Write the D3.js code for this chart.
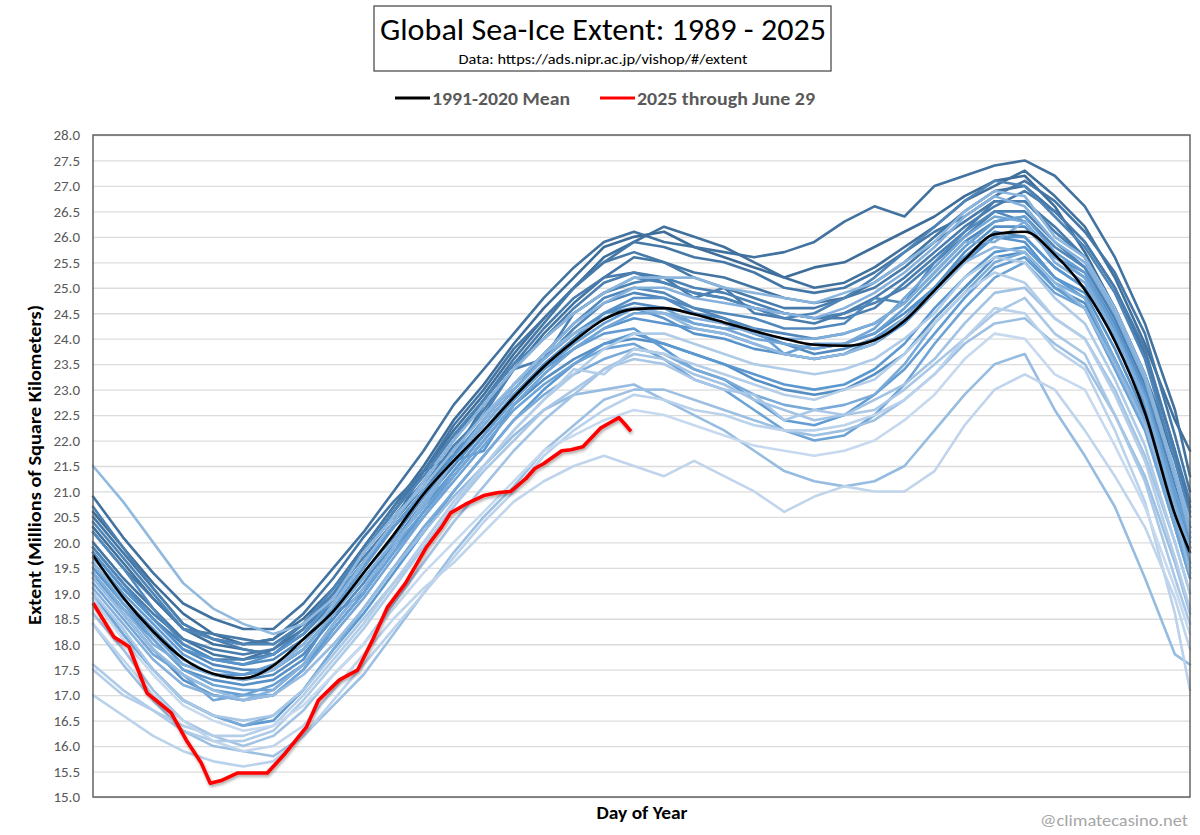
<!DOCTYPE html>
<html>
<head>
<meta charset="utf-8">
<style>
    body {
        margin: 0;
        background: #fff;
        font-family: Carlito, Lato, "Open Sans", sans-serif;
    }
    .grid line { stroke: #dcdcdc; stroke-width: 1.3px; }
    .grid path { display: none; }
    .ylab path, .ylab line { display: none; }
    .ylab text { fill: #595959; font-size: 15px; font-family: Carlito, Lato, sans-serif; }
    .year { fill: none; stroke-width: 2.6px; stroke-linejoin: round; stroke-linecap: round; }
</style>
</head>
<body>
<svg id="chart" width="1200" height="835"></svg>
<script src="https://d3js.org/d3.v7.min.js"></script>
<script>
// day of year of each reading (every 10 days, plus Dec 31)
var days = [1, 11, 21, 31, 41, 51, 61, 71, 81, 91, 101, 111, 121, 131, 141, 151, 161, 171, 181, 191,
            201, 211, 221, 231, 241, 251, 261, 271, 281, 291, 301, 311, 321, 331, 341, 351, 361, 366];

var yTicks = [15.0, 15.5, 16.0, 16.5, 17.0, 17.5, 18.0, 18.5, 19.0, 19.5, 20.0, 20.5, 21.0, 21.5, 22.0, 22.5, 23.0, 23.5, 24.0, 24.5, 25.0, 25.5, 26.0, 26.5, 27.0, 27.5, 28.0];

var years = [1989, 1990, 1991, 1992, 1993, 1994, 1995, 1996, 1997, 1998, 1999, 2000, 2001, 2002, 2003, 2004, 2005, 2006,
             2007, 2008, 2009, 2010, 2011, 2012, 2013, 2014, 2015, 2016, 2017, 2018, 2019, 2020, 2021, 2022, 2023, 2024];

var ext1989 = [20.6,19.9,19.2,18.6,18.2,18.0,18.1,18.5,19.1,19.9,20.7,21.5,22.4,23.1,23.9,24.6,25.2,25.8,26.0,26.1,25.8,25.6,25.4,25.2,25.4,25.5,25.8,26.1,26.4,26.8,27.1,27.2,26.6,25.7,24.6,23.2,21.6,20.7];
var ext1990 = [20.3,19.6,18.9,18.3,18.0,17.9,17.8,18.2,18.9,19.8,20.6,21.4,22.2,22.9,23.7,24.4,25.0,25.6,25.9,26.2,26.0,25.8,25.5,25.2,25.0,25.1,25.4,25.8,26.2,26.7,27.0,27.3,26.8,26.2,25.2,23.9,22.4,21.8];
var ext1991 = [20.9,20.1,19.4,18.8,18.5,18.3,18.3,18.8,19.5,20.2,21.0,21.8,22.7,23.4,24.1,24.8,25.4,25.9,26.1,25.9,25.8,25.7,25.6,25.7,25.9,26.3,26.6,26.4,27.0,27.2,27.4,27.5,27.2,26.6,25.6,24.3,22.6,21.3];
var ext1992 = [20.0,19.3,18.7,18.1,17.8,17.7,17.9,18.3,18.9,19.6,20.4,21.4,21.7,22.7,23.4,24.1,24.7,25.2,25.6,25.5,25.3,25.2,25.0,24.8,24.7,24.8,25.1,25.5,26.0,26.5,26.9,27.0,26.5,25.9,25.0,23.7,21.8,20.6];
var ext1993 = [20.5,19.8,19.1,18.4,18.1,18.0,18.1,18.6,19.3,20.1,20.8,21.4,22.3,23.0,23.8,24.4,25.0,25.5,25.9,25.8,25.6,25.5,25.3,25.0,24.9,25.0,25.3,25.7,26.1,26.4,26.8,27.1,26.7,26.1,25.3,24.1,22.1,21.0];
var ext1994 = [20.2,19.5,18.9,18.3,18.2,18.1,18.0,18.4,19.1,19.9,20.7,21.4,22.1,22.8,23.6,24.3,25.0,25.5,25.7,25.5,25.2,25.0,24.8,24.6,24.6,24.8,25.0,25.4,25.9,26.3,26.7,26.7,26.2,25.6,24.6,23.3,21.7,20.5];
var ext1995 = [19.9,19.2,18.6,18.1,17.9,17.8,17.9,18.4,19.0,19.8,20.5,21.2,22.0,22.8,23.5,24.2,24.8,25.2,25.3,25.2,24.8,25.0,24.5,24.4,24.3,24.5,24.8,25.2,25.7,26.2,26.6,26.9,26.5,25.9,25.0,23.8,21.8,20.8];
var ext1996 = [20.7,19.9,19.1,18.4,18.1,17.9,17.8,18.2,18.8,19.6,20.3,21.0,21.8,22.6,23.4,24.0,24.6,25.1,25.3,25.1,24.9,24.8,24.6,24.5,24.4,24.4,24.6,25.1,25.6,26.1,26.7,26.7,26.1,25.6,24.6,23.3,21.3,20.3];
var ext1997 = [19.8,19.1,18.5,18.0,17.7,17.7,17.8,18.3,19.0,19.7,20.4,21.1,21.9,22.5,23.4,23.6,24.5,24.9,25.1,25.2,25.0,24.9,24.7,24.5,24.4,24.5,24.7,25.0,25.5,26.0,26.5,26.5,25.9,25.4,24.4,23.1,21.1,20.1];
var ext1998 = [20.4,19.7,19.0,18.3,18.1,18.0,18.0,18.4,19.1,19.8,20.6,21.3,22.1,22.8,23.5,24.0,24.5,24.9,25.2,25.1,24.9,24.8,24.6,24.4,24.5,24.8,25.2,25.7,26.2,26.7,27.1,27.0,26.4,25.8,24.9,23.6,21.6,20.5];
var ext1999 = [19.9,19.2,18.5,17.9,17.6,17.5,17.5,17.9,18.6,19.4,20.1,20.9,21.6,22.3,23.0,23.6,24.2,24.7,24.9,24.8,24.6,24.4,24.2,24.1,24.0,24.1,24.3,24.7,25.3,25.9,26.3,26.4,25.8,25.4,24.5,23.2,21.3,20.3];
var ext2000 = [20.2,19.5,18.7,18.0,17.7,17.6,17.7,18.1,18.7,19.5,20.3,21.0,21.7,22.4,23.1,23.7,24.3,24.8,25.0,24.9,24.6,24.5,24.4,24.2,24.2,24.3,24.8,24.7,25.5,26.1,26.5,26.3,25.6,25.2,24.2,22.9,21.0,20.0];
var ext2001 = [19.6,18.9,18.3,17.7,17.4,17.3,17.4,17.8,18.5,19.2,20.0,20.8,21.5,22.2,22.9,23.5,24.0,24.5,24.7,24.6,24.5,24.4,24.1,23.9,23.7,23.8,24.0,24.4,25.0,25.6,26.1,26.0,25.4,25.0,24.0,22.7,20.8,19.9];
var ext2002 = [19.4,18.6,17.9,17.3,17.0,16.9,17.0,17.5,18.3,19.0,19.8,20.6,21.3,22.0,22.7,23.2,23.6,23.9,24.0,23.9,23.7,23.5,23.2,23.0,22.9,23.0,23.3,23.7,24.4,25.0,25.6,25.7,25.0,24.7,23.5,22.3,20.3,19.3];
var ext2003 = [19.4,18.7,18.1,17.5,17.3,17.2,17.3,17.7,18.6,19.0,20.0,20.7,21.4,22.1,22.8,23.4,24.0,24.5,24.8,24.8,24.5,24.3,24.1,23.9,23.8,23.9,24.1,24.5,25.0,25.7,26.2,26.2,25.6,25.3,24.3,23.0,21.0,20.2];
var ext2004 = [19.8,19.1,18.5,17.9,17.7,17.6,17.8,18.2,18.9,19.6,20.3,20.9,21.7,22.4,23.1,23.6,24.1,24.5,24.6,24.4,24.1,24.0,23.8,23.7,23.6,23.7,23.9,24.3,24.9,25.5,26.0,25.9,25.2,24.9,23.8,22.5,20.7,19.6];
var ext2005 = [19.5,18.8,18.2,17.6,17.4,17.4,17.5,17.9,18.6,19.3,20.0,20.7,21.6,21.8,22.7,23.3,23.8,24.2,24.4,24.3,24.2,24.1,23.9,23.7,23.6,23.7,24.0,24.4,25.0,25.6,26.0,26.0,25.4,25.0,24.0,22.7,20.9,19.8];
var ext2006 = [19.0,18.2,17.5,16.9,16.6,16.4,16.5,17.1,17.9,18.6,19.4,20.2,21.0,21.7,22.4,23.0,23.5,23.9,24.1,23.9,23.7,23.5,23.3,23.1,23.0,23.1,23.4,23.9,24.6,25.2,25.7,25.8,25.2,24.8,23.6,22.4,20.5,19.5];
var ext2007 = [19.7,19.0,18.4,17.8,17.5,17.4,17.6,18.0,18.7,19.5,20.3,21.0,21.6,22.2,22.9,23.4,23.8,24.1,24.2,23.8,23.4,23.2,22.8,22.4,22.3,22.5,22.9,23.4,24.1,24.8,25.4,25.6,25.0,24.6,23.5,22.3,20.4,19.4];
var ext2008 = [19.3,18.6,17.9,17.4,17.1,17.0,17.2,17.6,18.4,19.1,19.9,20.6,21.4,22.1,22.8,23.4,23.9,24.3,24.6,24.6,24.3,24.2,24.2,23.7,23.9,23.9,24.1,24.6,25.2,25.8,26.3,26.4,25.7,25.3,24.2,22.9,21.0,20.1];
var ext2009 = [19.6,18.8,18.1,17.5,17.2,17.1,17.1,17.6,18.3,19.0,19.8,20.5,21.2,21.9,22.6,23.1,23.5,23.8,23.9,23.6,23.2,23.0,22.6,22.2,22.0,22.1,22.5,23.1,23.9,24.6,25.2,25.5,24.9,24.6,23.4,22.2,20.3,19.3];
var ext2010 = [19.2,18.5,17.8,17.4,16.9,17.0,17.0,17.5,18.2,18.9,19.7,20.5,21.3,22.0,22.7,23.3,23.8,24.2,24.5,24.5,24.3,24.2,24.0,23.9,23.8,23.9,24.2,24.8,25.4,26.0,26.4,26.3,25.6,25.2,24.1,22.8,20.8,19.9];
var ext2011 = [18.9,18.2,17.5,16.9,16.6,16.4,16.6,17.1,17.9,18.7,19.5,20.3,21.0,21.7,22.4,22.9,23.3,23.6,23.8,23.7,23.4,23.2,22.9,22.7,22.6,22.7,22.9,23.5,24.3,24.9,25.5,25.7,25.1,24.8,23.6,22.4,20.4,19.5];
var ext2012 = [19.4,18.7,18.0,17.6,17.4,17.3,17.5,17.9,18.6,19.3,20.0,20.7,21.6,22.3,23.0,23.6,24.1,24.4,24.6,24.5,24.4,24.3,24.1,24.0,24.0,24.1,24.3,24.7,25.3,25.9,25.9,26.3,25.5,25.1,24.1,22.8,20.7,19.8];
var ext2013 = [19.1,18.4,17.7,17.2,17.0,16.9,17.1,17.6,18.4,19.1,19.9,20.8,21.6,22.4,23.1,23.7,24.3,24.7,25.0,25.0,24.8,24.7,24.6,24.5,24.4,24.6,24.9,25.3,25.8,26.4,26.8,26.6,25.9,25.5,24.5,23.2,21.3,20.2];
var ext2014 = [19.6,18.9,18.2,17.7,17.4,17.3,17.5,18.0,18.8,19.6,20.4,21.2,22.0,22.7,23.4,24.0,24.5,24.9,25.2,25.2,25.2,25.0,24.9,24.8,24.7,24.9,25.1,25.5,25.9,26.5,26.9,26.8,26.0,25.6,24.6,23.3,21.4,20.4];
var ext2015 = [21.5,20.8,20.0,19.2,18.7,18.4,18.2,18.4,18.9,19.8,20.5,21.1,21.8,22.5,23.1,23.7,24.1,24.4,24.6,24.5,24.2,24.1,23.9,23.7,23.6,23.7,23.9,24.4,24.9,25.5,25.8,25.7,25.1,24.6,23.5,22.3,20.6,19.4];
var ext2016 = [19.3,18.6,17.9,17.4,17.1,16.9,17.0,17.4,18.0,18.7,19.5,20.2,20.9,21.5,22.1,22.6,22.9,23.0,23.1,22.8,22.5,22.2,21.8,21.4,21.2,21.1,21.2,21.5,22.2,22.9,23.5,23.7,22.6,21.7,20.7,19.3,17.8,17.6];
var ext2017 = [18.4,17.6,16.9,16.3,16.0,15.9,15.8,16.2,16.8,17.4,18.2,19.0,19.8,20.5,21.1,21.8,22.3,22.8,23.0,23.0,22.8,22.6,22.4,22.2,22.1,22.2,22.4,22.8,23.3,23.9,24.3,24.4,23.9,23.5,22.5,21.3,19.6,18.6];
var ext2018 = [18.6,17.9,17.1,16.5,16.2,16.0,16.2,16.7,17.4,18.0,18.8,19.6,20.4,21.1,21.8,22.4,22.9,23.4,23.7,23.6,23.3,23.1,22.8,22.6,22.4,22.5,22.8,23.1,23.6,24.3,24.9,25.0,24.4,24.0,23.0,21.7,20.0,19.0];
var ext2019 = [19.0,18.3,17.5,16.9,16.6,16.5,16.6,17.1,17.8,18.5,19.2,19.9,20.7,21.4,22.0,22.6,23.0,23.4,23.6,23.5,23.2,23.0,22.9,22.4,22.6,22.5,22.6,23.0,23.5,24.0,24.5,24.8,24.1,23.7,22.5,21.2,19.3,18.4];
var ext2020 = [17.6,17.1,16.7,16.3,16.1,16.1,16.3,16.9,17.6,18.3,19.1,19.9,20.7,21.5,22.2,22.8,23.3,23.8,24.1,24.1,23.9,23.7,23.5,23.4,23.3,23.4,23.6,24.0,24.5,25.2,25.6,25.5,24.8,24.3,23.2,21.9,20.0,19.0];
var ext2021 = [17.5,17.0,16.7,16.4,16.2,16.2,16.4,17.0,17.7,18.4,19.2,20.0,20.8,21.5,22.2,22.8,23.4,23.3,23.8,23.7,23.5,23.3,23.1,22.9,22.8,23.0,23.2,23.7,24.3,24.9,25.3,25.1,24.4,24.0,22.9,21.6,19.7,18.7];
var ext2022 = [17.0,16.6,16.2,15.9,15.7,15.6,15.7,16.2,16.9,17.6,18.3,19.0,19.7,20.4,21.0,21.7,22.2,22.6,22.9,22.8,22.6,22.5,22.3,22.2,22.2,22.3,22.5,22.8,23.3,24.0,24.6,24.5,23.8,23.4,22.2,20.8,18.6,17.1];
var ext2023 = [18.4,17.7,17.0,16.5,16.1,15.9,16.0,16.4,17.1,17.8,18.5,19.1,19.6,20.2,20.8,21.2,21.5,21.7,21.5,21.3,21.6,21.3,21.0,20.6,20.9,21.1,21.0,21.0,21.4,22.3,23.0,23.3,23.0,22.2,21.3,20.3,18.9,17.9];
var ext2024 = [18.9,18.1,17.4,16.8,16.5,16.3,16.4,16.8,17.4,18.0,18.7,19.4,20.0,20.6,21.2,21.8,22.1,22.4,22.6,22.5,22.3,22.1,21.9,21.8,21.7,21.8,22.0,22.4,22.9,23.6,24.1,24.0,23.3,23.0,21.9,20.7,19.1,18.2];

var yearExtents = [ext1989, ext1990, ext1991, ext1992, ext1993, ext1994, ext1995, ext1996, ext1997, ext1998, ext1999, ext2000,
                   ext2001, ext2002, ext2003, ext2004, ext2005, ext2006, ext2007, ext2008, ext2009, ext2010, ext2011, ext2012,
                   ext2013, ext2014, ext2015, ext2016, ext2017, ext2018, ext2019, ext2020, ext2021, ext2022, ext2023, ext2024];

// 1991-2020 mean, same days
var meanExt = [19.75,18.92,18.25,17.72,17.42,17.33,17.58,18.1,18.65,19.4,20.15,20.95,21.6,22.2,22.85,23.45,23.95,24.38,24.58,24.6,
               24.48,24.32,24.15,24.0,23.88,23.86,23.97,24.35,24.95,25.55,26.05,26.1,25.65,24.96,23.95,22.55,20.55,19.8];

// 2025 through June 29
var days2025 = [1,8,13,19,23,27,32,37,40,44,49,54,59,65,72,76,83,89,94,99,105,112,117,120,125,131,136,140,145,148,151,157,160,164,170,173,176,178,180];
var ext2025 = [18.81,18.14,17.95,17.04,16.85,16.65,16.12,15.67,15.27,15.33,15.47,15.47,15.47,15.86,16.37,16.9,17.3,17.49,18.08,18.73,19.2,19.91,20.3,20.58,20.75,20.92,20.98,21.0,21.25,21.45,21.55,21.8,21.82,21.88,22.25,22.35,22.45,22.32,22.18];

var svg = d3.select("#chart");
var margin = {top: 135, right: 10, bottom: 38, left: 93},
    width = 1200 - margin.left - margin.right,
    height = 835 - margin.top - margin.bottom;

var defs = svg.append("defs");
var shadow = defs.append("filter").attr("id", "glow")
    .attr("x", "-5%").attr("y", "-5%").attr("width", "110%").attr("height", "115%");
shadow.append("feDropShadow").attr("dx", 1).attr("dy", 2).attr("stdDeviation", 1.6)
    .attr("flood-color", "#000").attr("flood-opacity", 0.35);

var x = d3.scaleLinear().domain([1, 366]).range([0, width]);
var y = d3.scaleLinear().domain([15, 28]).range([height, 0]);

var color = d3.scaleLinear()
    .domain([1989, 2006, 2024])
    .range(["#3e6d99", "#5c98d0", "#c6d9ee"])
    .interpolate(d3.interpolateRgb);

var g = svg.append("g").attr("transform", "translate(" + margin.left + "," + margin.top + ")");

g.append("g").attr("class", "grid")
    .call(d3.axisLeft(y).tickValues(yTicks).tickSize(-width).tickFormat(""));

g.append("g").attr("class", "ylab")
    .call(d3.axisLeft(y).tickValues(yTicks).tickSize(0).tickPadding(13).tickFormat(d3.format(".1f")));

var line = d3.line()
    .x(function(d, i) { return x(days[i]); })
    .y(function(d) { return y(d); });

g.selectAll("path.year")
    .data(yearExtents)
    .enter().append("path")
    .attr("class", "year")
    .attr("stroke", function(d, i) { return color(years[i]); })
    .attr("d", line);

g.append("path")
    .datum(meanExt)
    .attr("fill", "none")
    .attr("stroke", "#000")
    .attr("stroke-width", 2.6)
    .attr("d", line.curve(d3.curveMonotoneX));

var line2025 = d3.line()
    .x(function(d, i) { return x(days2025[i]); })
    .y(function(d) { return y(d); });

g.append("path")
    .datum(ext2025)
    .attr("fill", "none")
    .attr("stroke", "#ff0000")
    .attr("stroke-width", 3.6)
    .attr("stroke-linejoin", "round")
    .attr("filter", "url(#glow)")
    .attr("d", line2025);

g.append("rect")
    .attr("width", width).attr("height", height)
    .attr("fill", "none").attr("stroke", "#595959").attr("stroke-width", 1.4);

// axis titles
svg.append("text")
    .attr("transform", "translate(41,465) rotate(-90)")
    .attr("text-anchor", "middle")
    .style("font-weight", "bold").style("font-size", "19px")
    .attr("textLength", 320).attr("lengthAdjust", "spacingAndGlyphs")
    .text("Extent (Millions of Square Kilometers)");

svg.append("text")
    .attr("x", 642).attr("y", 819)
    .attr("text-anchor", "middle")
    .style("font-weight", "bold").style("font-size", "18px")
    .attr("textLength", 91).attr("lengthAdjust", "spacingAndGlyphs")
    .text("Day of Year");

svg.append("text")
    .attr("x", 1188).attr("y", 826)
    .attr("text-anchor", "end")
    .style("font-size", "17px").style("fill", "#a6a6a6")
    .attr("textLength", 148).attr("lengthAdjust", "spacingAndGlyphs")
    .text("@climatecasino.net");

// title box
svg.append("rect")
    .attr("x", 374).attr("y", 6).attr("width", 457).attr("height", 65)
    .attr("fill", "#fff").attr("stroke", "#404040").attr("stroke-width", 1.2);

svg.append("text")
    .attr("x", 603).attr("y", 40)
    .attr("text-anchor", "middle")
    .style("font-size", "30px")
    .attr("textLength", 446).attr("lengthAdjust", "spacingAndGlyphs")
    .text("Global Sea-Ice Extent: 1989 - 2025");

svg.append("text")
    .attr("x", 603).attr("y", 64)
    .attr("text-anchor", "middle")
    .style("font-size", "13.5px")
    .attr("textLength", 289).attr("lengthAdjust", "spacingAndGlyphs")
    .text("Data: https://ads.nipr.ac.jp/vishop/#/extent");

// legend
var legend = [
    {label: "1991-2020 Mean", color: "#000", x: 395, w: 138},
    {label: "2025 through June 29", color: "#ff0000", x: 600, w: 178}
];
legend.forEach(function(l) {
    svg.append("line")
        .attr("x1", l.x).attr("x2", l.x + 35).attr("y1", 98).attr("y2", 98)
        .attr("stroke", l.color).attr("stroke-width", 3.2);
    svg.append("text")
        .attr("x", l.x + 37).attr("y", 105)
        .style("font-weight", "bold").style("font-size", "18px").style("fill", "#595959")
        .attr("textLength", l.w).attr("lengthAdjust", "spacingAndGlyphs")
        .text(l.label);
});
</script>
</body>
</html>
